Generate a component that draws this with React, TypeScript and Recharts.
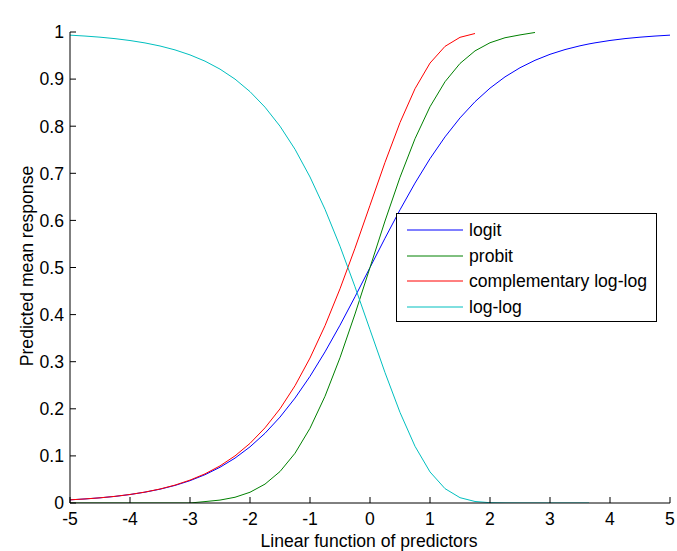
import React from "react";
import { LineChart, Line, XAxis, YAxis, Legend } from "recharts";

// Linear predictor values (x) at which each link curve is tabulated
const xValues = [
  -5, -4.75, -4.5, -4.25, -4, -3.75, -3.5, -3.25, -3, -2.75, -2.5, -2.25, -2,
  -1.75, -1.5, -1.25, -1, -0.75, -0.5, -0.25, 0, 0.25, 0.5, 0.75, 1, 1.25, 1.5,
  1.75, 2, 2.25, 2.5, 2.75, 3, 3.25, 3.5, 3.65, 3.75, 4, 4.25, 4.5, 4.75, 5,
];

const logitValues = [
  0.0067, 0.0086, 0.011, 0.014, 0.018, 0.023, 0.0293, 0.0373, 0.0474, 0.0601,
  0.0759, 0.0953, 0.1192, 0.148, 0.1824, 0.2227, 0.2689, 0.3208, 0.3775, 0.4378,
  0.5, 0.5622, 0.6225, 0.6792, 0.7311, 0.7773, 0.8176, 0.852, 0.8808, 0.9047,
  0.9241, 0.9399, 0.9526, 0.9627, 0.9707, 0.9747, 0.977, 0.982, 0.986, 0.989,
  0.9914, 0.9933,
];

const probitValues = [
  0, 0, 0, 0, 0, 0, 0, 0, 0, 0.003, 0.0062, 0.0122, 0.0228, 0.0401, 0.0668,
  0.1056, 0.1587, 0.2266, 0.3085, 0.4013, 0.5, 0.5987, 0.6915, 0.7734, 0.8413,
  0.8944, 0.9332, 0.9599, 0.9772, 0.9878, 0.9938, 0.999, null, null, null, null,
  null, null, null, null, null, null,
];

const cloglogValues = [
  0.0067, 0.0086, 0.011, 0.0141, 0.0181, 0.0232, 0.0297, 0.038, 0.0486, 0.0619,
  0.0788, 0.1, 0.1266, 0.1596, 0.2, 0.249, 0.3078, 0.3764, 0.4548, 0.541,
  0.6321, 0.7231, 0.8077, 0.8796, 0.934, 0.9695, 0.9887, 0.9968, null, null,
  null, null, null, null, null, null, null, null, null, null, null, null,
];

const loglogValues = [
  0.9933, 0.9914, 0.989, 0.9859, 0.9819, 0.9768, 0.9703, 0.962, 0.9514, 0.9381,
  0.9212, 0.9, 0.8734, 0.8404, 0.8, 0.751, 0.6922, 0.6236, 0.5452, 0.459,
  0.3679, 0.2769, 0.1923, 0.1204, 0.066, 0.0305, 0.0113, 0.0032, 0.0006, 0.0001,
  0, 0, 0, 0, 0, 0, null, null, null, null, null, null,
];

const seriesKeys = ["logit", "probit", "cloglog", "loglog"];
const seriesNames = ["logit", "probit", "complementary log-log", "log-log"];
const seriesColors = ["#0000ff", "#008000", "#ff0000", "#00bfbf"];

const xTicks = [-5, -4, -3, -2, -1, 0, 1, 2, 3, 4, 5];
const yTicks = [0, 0.1, 0.2, 0.3, 0.4, 0.5, 0.6, 0.7, 0.8, 0.9, 1];
const yTickLabels = ["0", "0.1", "0.2", "0.3", "0.4", "0.5", "0.6", "0.7", "0.8", "0.9", "1"];

const xLabel = "Linear function of predictors";
const yLabel = "Predicted mean response";

const rows = xValues.map((x, i) => ({
  x,
  logit: logitValues[i],
  probit: probitValues[i],
  cloglog: cloglogValues[i],
  loglog: loglogValues[i],
}));

const FONT = "'Liberation Sans', Arial, Helvetica, sans-serif";
const FS = 17.6;
const TICK = 6;

const BottomTick = (props: any) => {
  const { x, y, payload } = props;
  return (
    <g>
      <line x1={x} x2={x} y1={y} y2={y - TICK} stroke="#000" />
      <text x={x} y={y + 22} textAnchor="middle" fontFamily={FONT} fontSize={FS} fill="#000">
        {String(payload.value)}
      </text>
    </g>
  );
};

const TopTick = (props: any) => {
  const { x, y } = props;
  return <line x1={x} x2={x} y1={y} y2={y + TICK} stroke="#000" />;
};

const LeftTick = (props: any) => {
  const { x, y, payload } = props;
  const idx = yTicks.indexOf(payload.value);
  return (
    <g>
      <line x1={x} x2={x + TICK} y1={y} y2={y} stroke="#000" />
      <text x={x - 6} y={y} dy="0.36em" textAnchor="end" fontFamily={FONT} fontSize={FS} fill="#000">
        {idx >= 0 ? yTickLabels[idx] : String(payload.value)}
      </text>
    </g>
  );
};

const RightTick = (props: any) => {
  const { x, y } = props;
  return <line x1={x} x2={x - TICK} y1={y} y2={y} stroke="#000" />;
};

// Legend entries keep the plotting order of the series
const LegendBox = (props: any) => {
  const payload = [...(props.payload || [])].sort(
    (a: any, b: any) => seriesNames.indexOf(a.value) - seriesNames.indexOf(b.value)
  );
  return (
    <div
      style={{
        width: 259,
        height: 107,
        border: "1px solid #000",
        background: "#fff",
        position: "relative",
        fontFamily: FONT,
        fontSize: FS,
      }}
    >
      {payload.map((entry: any, i: number) => (
        <div
          key={entry.value}
          style={{
            position: "absolute",
            left: 0,
            top: 4 + i * 25.5,
            height: 24,
            display: "flex",
            alignItems: "center",
          }}
        >
          <svg width={66} height={24} style={{ display: "block" }}>
            <line x1={10} x2={66} y1={12} y2={12} stroke={entry.color} strokeWidth={1} />
          </svg>
          <span style={{ marginLeft: 6, color: "#000", lineHeight: "24px", whiteSpace: "nowrap" }}>
            {entry.value}
          </span>
        </div>
      ))}
    </div>
  );
};

export default function App() {
  return (
    <div style={{ position: "absolute", left: 0, top: 0, width: 677, height: 551, background: "#fff" }}>
      <LineChart
        width={677}
        height={551}
        data={rows}
        margin={{ top: 32, right: 7, left: 0, bottom: 0 }}
      >
        <XAxis
          dataKey="x"
          type="number"
          domain={[-5, 5]}
          ticks={xTicks}
          interval={0}
          height={48}
          tickSize={0}
          tickMargin={0}
          tickLine={false}
          axisLine={{ stroke: "#000" }}
          tick={(p: any) => <BottomTick {...p} />}
          allowDataOverflow
        />
        <XAxis
          xAxisId="top"
          orientation="top"
          dataKey="x"
          type="number"
          domain={[-5, 5]}
          ticks={xTicks}
          interval={0}
          height={0}
          tickSize={0}
          tickMargin={0}
          tickLine={false}
          axisLine={{ stroke: "#000" }}
          tick={(p: any) => <TopTick {...p} />}
          allowDataOverflow
        />
        <YAxis
          type="number"
          domain={[0, 1]}
          ticks={yTicks}
          interval={0}
          width={70}
          tickSize={0}
          tickMargin={0}
          tickLine={false}
          axisLine={{ stroke: "#000" }}
          tick={(p: any) => <LeftTick {...p} />}
          allowDataOverflow
        />
        <YAxis
          yAxisId="right"
          orientation="right"
          type="number"
          domain={[0, 1]}
          ticks={yTicks}
          interval={0}
          width={0}
          tickSize={0}
          tickMargin={0}
          tickLine={false}
          axisLine={{ stroke: "#000" }}
          tick={(p: any) => <RightTick {...p} />}
          allowDataOverflow
        />
        {seriesKeys.map((k, i) => (
          <Line
            key={k}
            dataKey={k}
            name={seriesNames[i]}
            type="linear"
            stroke={seriesColors[i]}
            strokeWidth={1}
            dot={false}
            activeDot={false}
            isAnimationActive={false}
          />
        ))}
        <Legend
          layout="vertical"
          align="center"
          verticalAlign="middle"
          content={(p: any) => <LegendBox {...p} />}
          wrapperStyle={{ position: "absolute", left: 396, top: 213, width: 261, height: 109 }}
        />
        <text
          x={369}
          y={547}
          textAnchor="middle"
          fontFamily={FONT}
          fontSize={FS}
          fill="#000"
        >
          {xLabel}
        </text>
        <text
          x={33}
          y={266}
          textAnchor="middle"
          fontFamily={FONT}
          fontSize={FS}
          fill="#000"
          transform="rotate(-90, 33, 266)"
        >
          {yLabel}
        </text>
      </LineChart>
    </div>
  );
}
